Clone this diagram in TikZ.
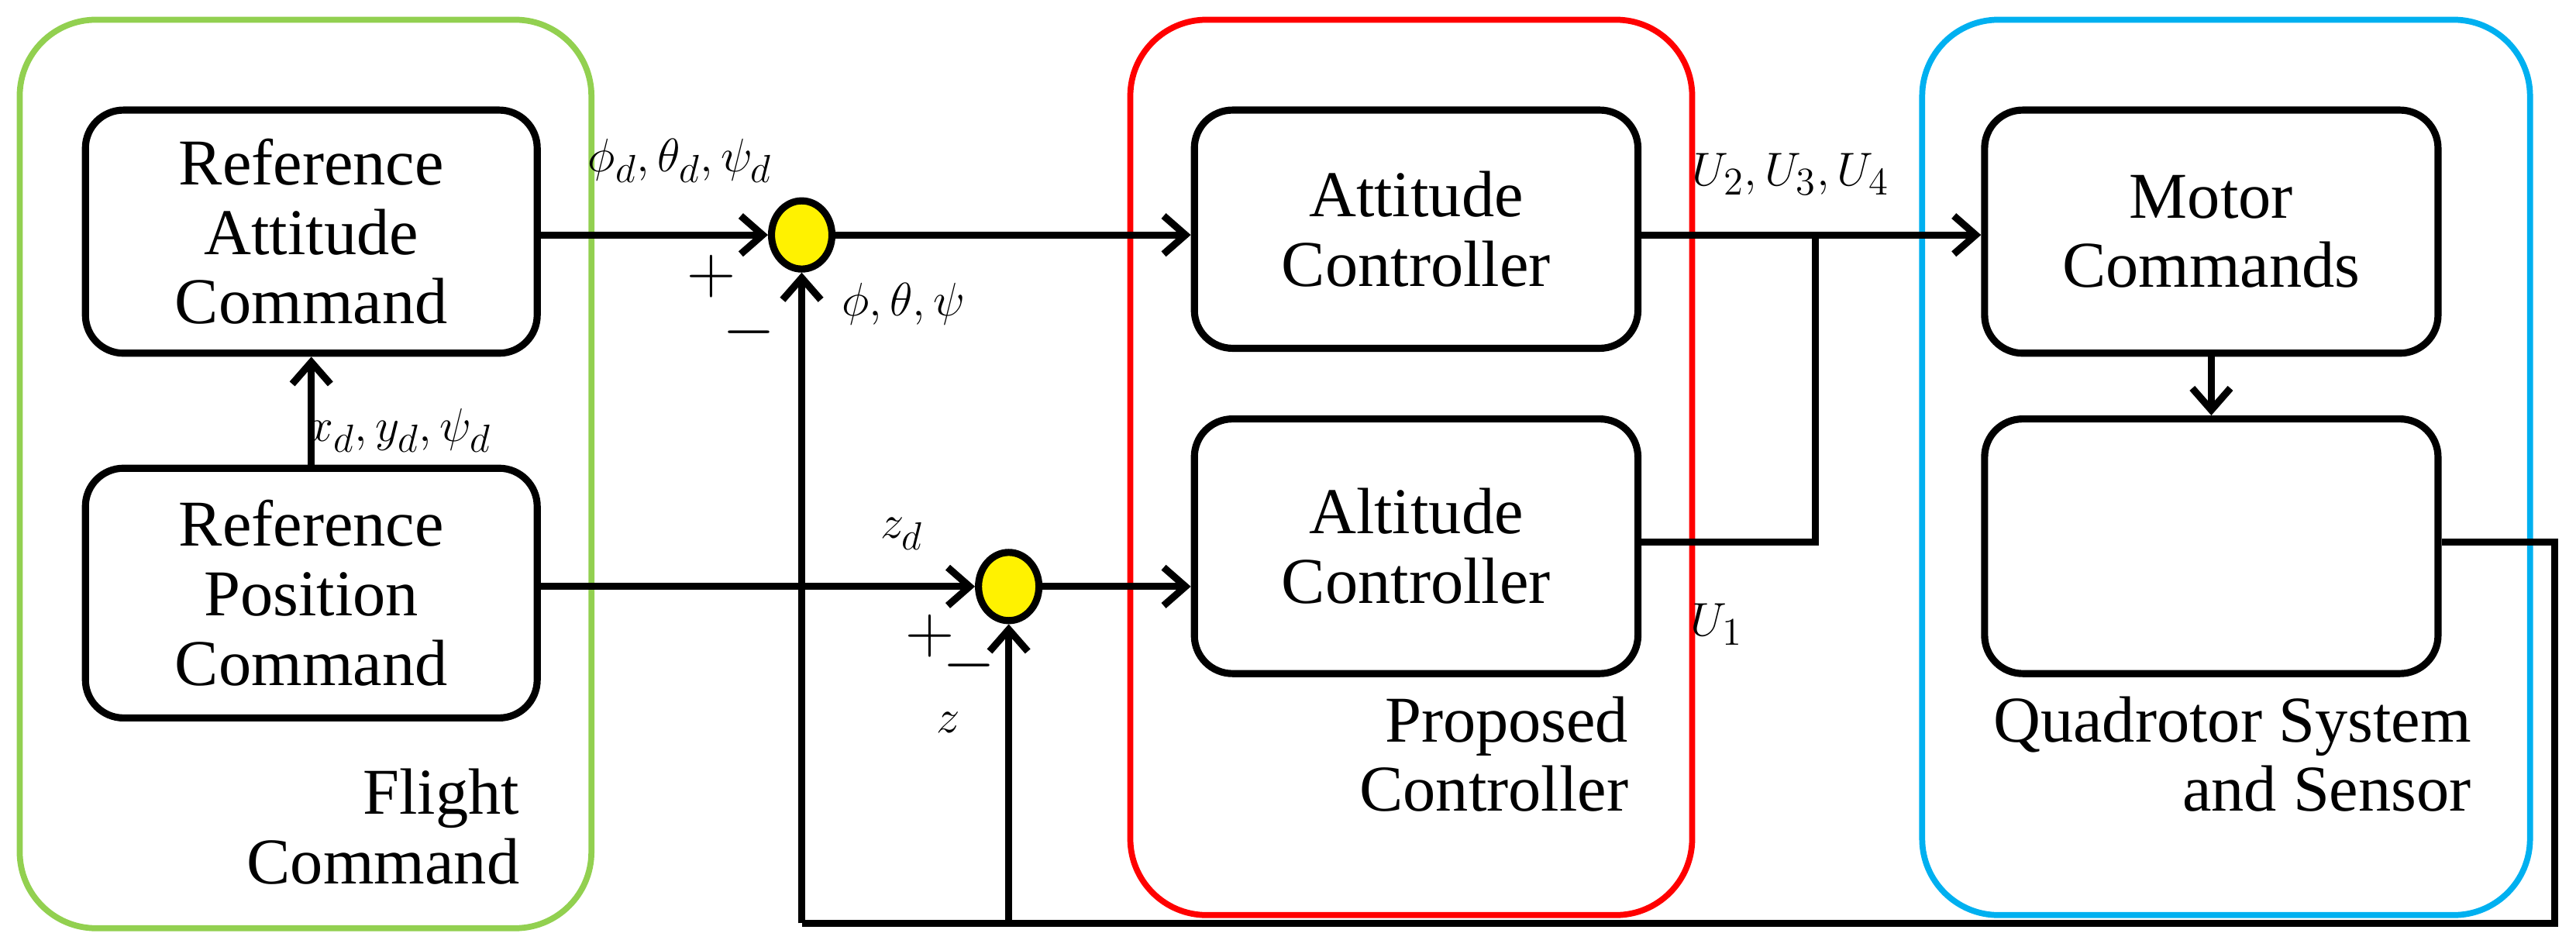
\documentclass[tikz,border=0pt]{standalone}
\usepackage{fontspec}
\setmainfont{Liberation Serif}
\newfontfamily\tnr{Liberation Serif}
\usetikzlibrary{arrows.meta,shapes.geometric}
\begin{document}
\begin{tikzpicture}[x=0.0212cm,y=-0.0212cm,
  blk/.style={draw,line width=2.6pt,rounded corners=14pt,align=center,font=\tnr\fontsize{24}{25.5}\selectfont},
  grp/.style={line width=2.2pt,rounded corners=28pt},
  ln/.style={line width=2.6pt},
  ar/.style={line width=2.6pt,-{Straight Barb[length=8pt,width=14pt,line width=2.6pt]}},
  sum/.style={draw,line width=2.6pt,fill=yellow,ellipse,inner sep=0},
  lab/.style={font=\fontsize{19}{21}\selectfont},
  pm/.style={font=\tnr\fontsize{28}{28}\selectfont},
  ttl/.style={align=right,font=\tnr\fontsize{24}{25.5}\selectfont}]
\useasboundingbox (0,0) rectangle (1568,576);
\draw[grp,draw={rgb,255:red,146;green,208;blue,80}] (12,12) rectangle (360,565);
\draw[grp,draw=red] (688,12) rectangle (1030,557);
\draw[grp,draw={rgb,255:red,0;green,176;blue,240}] (1170,12) rectangle (1540,557);
\node[blk,minimum width=275*0.0212cm,minimum height=148*0.0212cm] (ra) at (189.5,141) {Reference\\Attitude\\Command};
\node[blk,minimum width=275*0.0212cm,minimum height=152*0.0212cm] (rp) at (189.5,361) {Reference\\Position\\Command};
\node[blk,minimum width=270*0.0212cm,minimum height=145*0.0212cm] (ac) at (862,139.5) {Attitude\\Controller};
\node[blk,minimum width=270*0.0212cm,minimum height=155*0.0212cm] (lc) at (862,332.5) {Altitude\\Controller};
\node[blk,minimum width=276*0.0212cm,minimum height=148*0.0212cm] (mc) at (1346,141) {Motor\\Commands};
\node[blk,minimum width=276*0.0212cm,minimum height=155*0.0212cm] (qs) at (1346,332.5) {};
\node[ttl,anchor=north east] (fc) at (322,462) {Flight\\Command};
\node[ttl,anchor=north east] (pc) at (997,418) {Proposed\\Controller};
\node[ttl,anchor=north east] (qt) at (1510,418) {Quadrotor System\\and Sensor};
\node[sum,minimum width=0.78cm,minimum height=0.88cm] (s1) at (488,143) {};
\node[sum,minimum width=0.78cm,minimum height=0.88cm] (s2) at (614,357) {};
\draw[ar] (rp.north) -- (ra.south);
\draw[ar] (ra.east |- s1) -- (s1.west);
\draw[ar] (s1.east) -- (ac.west |- s1);
\draw[ar] (rp.east |- s2) -- (s2.west);
\draw[ar] (s2.east) -- (lc.west |- s2);
\coordinate (j) at (1105,143);
\draw[ar] (ac.east |- j) -- (mc.west |- j);
\draw[ln] (lc.east |- 0,330) -| (j);
\draw[ar] (mc.south) -- (qs.north);
\coordinate (fb1) at (1555,330);
\coordinate (fb2) at (1555,562);
\coordinate (fb3) at (488,562);
\coordinate (fb4) at (614,562);
\draw[ln] (qs.east |- fb1) -- (fb1) -- (fb2) -- (fb3);
\draw[ar] (fb3) -- (s1.south);
\draw[ar] (fb4) -- (s2.south);
\node[lab] (l1) at (414,98) {$\phi_d,\theta_d,\psi_d$};
\node[pm] (l2) at (433,168) {$+$};
\node[pm] (l3) at (456,202) {$-$};
\node[lab] (l4) at (550,185) {$\phi,\theta,\psi$};
\node[lab] (l5) at (243,262) {$x_d,y_d,\psi_d$};
\node[lab] (l6) at (549,325) {$z_d$};
\node[pm] (l7) at (566,387) {$+$};
\node[pm] (l8) at (590,405) {$-$};
\node[lab] (l9) at (577,440) {$z$};
\node[lab] (l10) at (1090,106) {$U_2,U_3,U_4$};
\node[lab] (l11) at (1045,380) {$U_1$};
\end{tikzpicture}
\end{document}
